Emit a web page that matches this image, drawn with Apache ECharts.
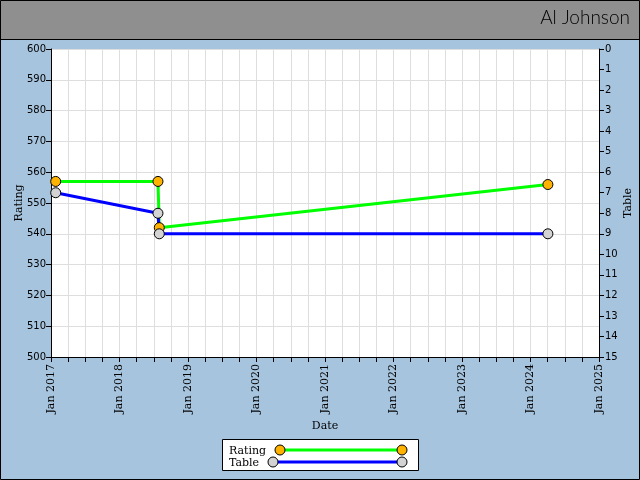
<!DOCTYPE html>
<html>
<head>
<meta charset="utf-8">
<script src="https://cdn.jsdelivr.net/npm/echarts@6/dist/echarts.min.js"></script>
<style>
  html, body { margin: 0; padding: 0; }
  #echart { width: 640px; height: 480px; }
</style>
</head>
<body>
<div id="echart"></div>
<script>
// data
var dates = ['2017-01-26', '2018-07-25', '2018-08-01', '2024-04-03'];
var rating = [557, 557, 542, 556];
var table = [7, 8, 9, 9];
var years = [2017, 2018, 2019, 2020, 2021, 2022, 2023, 2024, 2025];

// date string -> fractional year, so the x axis is evenly spaced by year
function toYear(s) {
    var d = new Date(s + 'T00:00:00Z');
    var y = d.getUTCFullYear();
    var start = Date.UTC(y, 0, 1), end = Date.UTC(y + 1, 0, 1);
    return y + (d.getTime() - start) / (end - start);
}

var ratingData = [], tableData = [];
for (var i = 0; i < dates.length; i++) {
    ratingData.push([toYear(dates[i]), rating[i]]);
    tableData.push([toYear(dates[i]), table[i]]);
}

var serif = 'DejaVu Serif';
var sans = 'DejaVu Sans';

var myChart = echarts.init(document.getElementById('echart'));

var option = {
    animation: false,
    backgroundColor: '#a7c4de',
    grid: {
        left: 51, right: 41, top: 49, bottom: 123,
        outerBoundsMode: 'none', containLabel: false,
        show: true, backgroundColor: '#fff', borderWidth: 0
    },
    xAxis: {
        type: 'value',
        min: years[0],
        max: years[years.length - 1],
        interval: 1,
        name: 'Date',
        nameLocation: 'middle',
        nameGap: 64,
        nameMoveOverlap: false,
        nameTextStyle: { color: '#000', fontFamily: serif, fontSize: 11 },
        axisLine: { show: true, onZero: false, lineStyle: { color: '#000', width: 1 } },
        axisTick: { show: true, length: 5, lineStyle: { color: '#000' } },
        minorTick: { show: true, splitNumber: 4, length: 5, lineStyle: { color: '#000' } },
        splitLine: { show: true, lineStyle: { color: '#dedede', width: 1 } },
        minorSplitLine: { show: true, lineStyle: { color: '#dedede', width: 1 } },
        axisLabel: {
            rotate: 90,
            margin: 7,
            color: '#000',
            fontFamily: serif,
            fontSize: 11,
            formatter: function (v) { return 'Jan ' + v; }
        }
    },
    yAxis: [{
        type: 'value',
        min: 500,
        max: 600,
        interval: 10,
        name: 'Rating',
        nameLocation: 'middle',
        nameGap: 26,
        nameMoveOverlap: false,
        nameTextStyle: { color: '#000', fontFamily: serif, fontSize: 11 },
        axisLine: { show: true, lineStyle: { color: '#000', width: 1 } },
        axisTick: { show: true, length: 5, lineStyle: { color: '#000' } },
        splitLine: { show: true, lineStyle: { color: '#dedede', width: 1 } },
        axisLabel: { color: '#000', fontFamily: sans, fontSize: 10, margin: 5 }
    }, {
        type: 'value',
        min: 0,
        max: 15,
        interval: 1,
        inverse: true,
        position: 'right',
        name: 'Table',
        nameLocation: 'middle',
        nameGap: 24,
        nameRotate: 90,
        nameMoveOverlap: false,
        nameTextStyle: { color: '#000', fontFamily: serif, fontSize: 11 },
        axisLine: { show: true, lineStyle: { color: '#000', width: 1 } },
        axisTick: { show: true, length: 5, lineStyle: { color: '#000' } },
        splitLine: { show: false },
        axisLabel: { color: '#000', fontFamily: sans, fontSize: 10, margin: 6 }
    }],
    series: [{
        name: 'Rating',
        type: 'line',
        yAxisIndex: 0,
        data: ratingData,
        symbol: 'circle',
        symbolSize: 10,
        lineStyle: { color: '#00ff00', width: 3 },
        itemStyle: { color: '#ffb300', borderColor: '#000', borderWidth: 1 }
    }, {
        name: 'Table',
        type: 'line',
        yAxisIndex: 1,
        data: tableData,
        symbol: 'circle',
        symbolSize: 10,
        lineStyle: { color: '#0000ff', width: 3 },
        itemStyle: { color: '#d3d3d3', borderColor: '#000', borderWidth: 1 }
    }],
    graphic: [
        // header band
        { type: 'rect', left: 0, top: 0, shape: { width: 640, height: 39 }, style: { fill: '#8f8f8f' }, z: -1 },
        { type: 'line', shape: { x1: 0, y1: 39.5, x2: 640, y2: 39.5 }, style: { stroke: '#000', lineWidth: 1 } },
        { type: 'text', right: 10, top: 8, style: { text: 'Al Johnson', font: '300 19px Lato', fill: '#000' } },
        // outer frame
        { type: 'rect', shape: { x: 0.5, y: 0.5, width: 639, height: 479 }, style: { fill: 'none', stroke: '#000', lineWidth: 1 } },
        // legend box
        { type: 'rect', shape: { x: 222.5, y: 439.5, width: 196, height: 31 }, style: { fill: '#fff', stroke: '#000', lineWidth: 1 } },
        { type: 'text', x: 229, y: 451, style: { text: 'Rating', font: '11px "DejaVu Serif"', fill: '#000', verticalAlign: 'middle' } },
        { type: 'text', x: 229, y: 463, style: { text: 'Table', font: '11px "DejaVu Serif"', fill: '#000', verticalAlign: 'middle' } },
        { type: 'line', shape: { x1: 280, y1: 450, x2: 402, y2: 450 }, style: { stroke: '#00ff00', lineWidth: 3 } },
        { type: 'circle', shape: { cx: 280, cy: 450, r: 5 }, style: { fill: '#ffb300', stroke: '#000', lineWidth: 1 } },
        { type: 'circle', shape: { cx: 402, cy: 450, r: 5 }, style: { fill: '#ffb300', stroke: '#000', lineWidth: 1 } },
        { type: 'line', shape: { x1: 273, y1: 462, x2: 402, y2: 462 }, style: { stroke: '#0000ff', lineWidth: 3 } },
        { type: 'circle', shape: { cx: 273, cy: 462, r: 5 }, style: { fill: '#d3d3d3', stroke: '#000', lineWidth: 1 } },
        { type: 'circle', shape: { cx: 402, cy: 462, r: 5 }, style: { fill: '#d3d3d3', stroke: '#000', lineWidth: 1 } }
    ]
};

myChart.setOption(option);
</script>
</body>
</html>
